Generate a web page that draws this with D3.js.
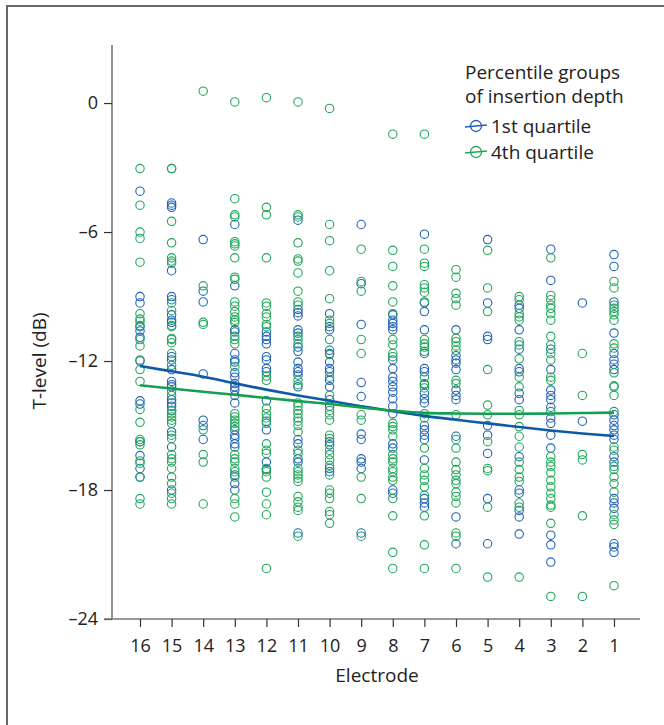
<!DOCTYPE html>
<html>
<head>
<meta charset="utf-8">
<script src="https://cdn.jsdelivr.net/npm/d3@7"></script>
<style>
  body { margin: 0; background: #fff; }
  svg { display: block; }
  svg text { font-family: "Open Sans", "Noto Sans", sans-serif; }
</style>
</head>
<body>
<div id="chart"></div>
<script>
// electrodes, left to right on the x axis
const electrodes = [16, 15, 14, 13, 12, 11, 10, 9, 8, 7, 6, 5, 4, 3, 2, 1];
const yTicks = [0, -6, -12, -18, -24];

// T-level (dB) per electrode, 1st quartile of insertion depth
const q1Values = [
  [-4.1, -9.0, -9.3, -10.4, -10.6, -10.9, -12.0, -13.85, -14.0, -15.75, -16.4, -17.0, -17.4],
  [-4.65, -4.75, -4.85, -7.8, -9.0, -9.15, -9.85, -10.1, -10.2, -11.8, -11.95, -12.4, -12.95, -13.1, -13.2, -13.8, -13.95, -14.1, -14.3, -15.3, -16.0, -18.0],
  [-6.35, -8.75, -9.25, -12.6, -14.75, -15.0, -15.65],
  [-5.65, -8.5, -10.55, -10.65, -11.65, -11.95, -12.05, -12.55, -12.75, -13.05, -13.2, -13.35, -13.6, -13.95, -15.2, -15.45, -15.6, -15.85, -16.0, -17.3, -17.7, -18.0],
  [-10.65, -10.85, -11.0, -11.2, -11.8, -11.95, -12.35, -12.5, -13.85, -14.8, -15.2, -16.7, -17.05],
  [-5.45, -9.6, -9.75, -9.9, -10.55, -10.7, -11.35, -11.55, -12.05, -12.35, -12.5, -12.65, -13.2, -15.65, -15.85, -16.55, -16.7, -20.0],
  [-9.8, -10.4, -10.55, -11.5, -11.65, -12.05, -12.35, -12.5, -12.9, -13.2, -13.8, -14.1, -15.75, -15.9, -17.0, -17.15],
  [-5.65, -8.4, -10.3, -13.0, -13.65, -15.4, -15.65, -16.55, -16.7, -17.0, -20.0],
  [-9.85, -10.1, -10.25, -10.4, -10.55, -11.95, -12.35, -12.75, -12.95, -13.2, -13.45, -13.75, -14.1, -14.45, -15.85, -16.05, -18.0, -18.15],
  [-6.1, -9.3, -9.7, -10.55, -11.65, -12.35, -12.5, -13.1, -13.5, -13.75, -13.95, -15.0, -15.2, -15.45, -15.65, -16.6, -18.4, -18.6, -18.8],
  [-10.55, -11.75, -11.95, -12.1, -12.4, -13.35, -13.6, -13.8, -15.5, -19.25, -20.5],
  [-6.35, -9.3, -10.85, -11.0, -15.0, -15.45, -16.3, -18.4, -20.5],
  [-9.4, -9.55, -10.55, -11.45, -12.35, -12.5, -13.5, -13.8, -16.45, -18.0, -18.15, -18.95, -19.25, -20.05],
  [-6.8, -8.25, -11.45, -12.4, -13.35, -13.6, -13.8, -14.15, -14.65, -14.9, -15.45, -16.05, -20.1, -20.55, -21.35],
  [-9.3, -14.8],
  [-7.05, -7.6, -9.25, -10.7, -11.65, -11.95, -12.15, -12.4, -14.5, -14.75, -15.0, -15.2, -15.45, -15.65, -16.45, -16.7, -18.4, -18.6, -18.85, -20.5, -20.65, -20.9]
];

// T-level (dB) per electrode, 4th quartile of insertion depth
const q4Values = [
  [-3.05, -4.75, -6.0, -6.3, -7.4, -9.8, -10.05, -10.15, -10.35, -11.0, -11.3, -11.95, -12.4, -12.95, -14.25, -14.85, -15.65, -15.75, -15.9, -16.65, -16.75, -17.4, -18.4, -18.65],
  [-3.05, -3.05, -5.5, -6.5, -7.2, -7.35, -7.45, -9.3, -9.65, -10.35, -10.4, -10.95, -11.0, -11.15, -11.65, -12.2, -13.4, -13.6, -14.3, -14.45, -14.6, -14.75, -14.9, -15.45, -15.6, -16.35, -16.55, -16.7, -17.0, -17.4, -17.7, -18.15, -18.4, -18.65],
  [0.55, -8.5, -10.2, -10.3, -15.2, -16.35, -16.7, -18.65],
  [0.05, -4.45, -5.2, -5.3, -6.45, -6.55, -6.65, -7.2, -8.1, -8.2, -9.25, -9.45, -9.7, -9.95, -10.1, -10.2, -10.85, -11.0, -11.2, -12.25, -14.45, -14.6, -14.75, -14.9, -15.05, -16.35, -16.55, -16.7, -17.0, -17.15, -17.4, -18.4, -18.65, -19.25],
  [0.25, -4.85, -5.2, -7.2, -9.3, -9.45, -9.8, -9.95, -10.3, -10.4, -12.7, -12.9, -14.2, -14.45, -14.65, -14.9, -15.85, -16.15, -16.3, -17.0, -17.15, -17.4, -18.1, -18.65, -19.15, -21.65],
  [0.05, -5.2, -5.3, -6.5, -7.25, -7.35, -7.9, -8.75, -9.25, -9.4, -10.85, -11.0, -11.2, -12.9, -13.1, -13.95, -14.1, -14.3, -14.45, -14.65, -14.8, -15.0, -15.3, -16.15, -16.3, -17.0, -17.15, -17.3, -17.45, -17.6, -18.3, -18.55, -18.8, -18.95, -20.15],
  [-0.25, -5.65, -6.4, -7.8, -9.1, -10.1, -10.25, -11.0, -11.7, -12.75, -13.6, -14.3, -14.5, -14.75, -15.45, -15.6, -16.15, -16.35, -16.6, -16.85, -17.3, -18.0, -18.15, -18.4, -19.0, -19.15, -19.55],
  [-6.8, -8.3, -8.75, -11.0, -11.65, -14.5, -14.75, -17.4, -18.4, -20.15],
  [-1.45, -6.85, -7.6, -8.5, -9.25, -9.8, -11.0, -11.25, -11.65, -11.8, -14.9, -15.05, -15.2, -15.5, -16.35, -16.55, -16.7, -17.0, -17.15, -17.4, -17.55, -18.4, -19.2, -20.9, -21.65],
  [-1.45, -6.8, -7.45, -7.6, -8.45, -8.6, -8.8, -9.25, -11.0, -11.2, -11.35, -11.55, -12.75, -13.05, -13.25, -14.45, -14.65, -16.05, -17.0, -17.3, -17.55, -17.85, -18.25, -19.2, -20.55, -21.65],
  [-7.75, -8.1, -8.85, -9.1, -9.4, -10.95, -11.1, -11.3, -11.5, -12.9, -13.05, -14.5, -15.65, -16.05, -16.7, -17.05, -17.3, -17.55, -17.7, -18.1, -18.3, -18.6, -20.0, -20.15, -21.65],
  [-6.85, -8.6, -9.7, -12.4, -14.05, -14.5, -15.75, -17.0, -17.1, -18.8, -22.05],
  [-9.0, -9.15, -9.8, -9.95, -10.1, -11.1, -11.25, -11.9, -12.75, -13.2, -14.3, -14.5, -15.05, -15.5, -16.0, -16.7, -17.05, -17.4, -17.6, -18.6, -18.8, -22.05],
  [-7.2, -8.95, -9.15, -9.4, -9.55, -9.8, -10.1, -10.85, -11.25, -11.65, -11.95, -12.75, -12.9, -14.35, -16.45, -16.7, -16.9, -17.2, -17.55, -17.85, -18.15, -18.4, -18.7, -18.8, -19.55, -22.95],
  [-11.65, -13.6, -16.35, -16.6, -19.2, -22.95],
  [-8.3, -8.6, -9.4, -9.55, -9.7, -9.85, -10.1, -11.2, -11.4, -12.55, -13.15, -13.2, -13.6, -14.35, -16.0, -16.15, -16.9, -17.05, -17.4, -17.7, -18.1, -19.15, -19.4, -19.6, -22.45]
];

// smoothed fit per electrode
const q1Fit = [-12.23, -12.48, -12.73, -13.04, -13.33, -13.6, -13.85, -14.1, -14.34, -14.55, -14.73, -14.9, -15.07, -15.23, -15.37, -15.49];
const q4Fit = [-13.13, -13.28, -13.43, -13.57, -13.72, -13.86, -14.0, -14.16, -14.3, -14.41, -14.44, -14.45, -14.45, -14.44, -14.42, -14.4];

const groupNames = ["1st quartile", "4th quartile"];
const blue = "#1f63b5", green = "#20a75a";
const blueLine = "#0d5aa8", greenLine = "#14a050";

const W = 664, H = 725;
const svg = d3.select("#chart").append("svg")
  .attr("width", W).attr("height", H);

// figure frame
svg.append("path")
  .attr("d", "M7,725V6H664")
  .attr("fill", "none").attr("stroke", "#666").attr("stroke-width", 2);

const x = d3.scaleLinear().domain([16.886, 0.177]).range([112, 640]);
const y = d3.scaleLinear().domain([-24, 2.7]).range([619, 45]);

// axes
const yAxis = svg.append("g")
  .attr("transform", "translate(112,0)")
  .call(d3.axisLeft(y).tickValues(yTicks).tickSize(8).tickSizeOuter(0)
    .tickFormat(d => d === 0 ? "0" : "\u2013" + Math.abs(d)));
const xAxis = svg.append("g")
  .attr("transform", "translate(0,619)")
  .call(d3.axisBottom(x).tickValues(electrodes).tickSize(8).tickSizeOuter(0)
    .tickFormat(d3.format("d")));

[yAxis, xAxis].forEach(g => {
  g.attr("font-family", null).attr("font-size", null);
  g.select(".domain").attr("stroke", "#777").attr("stroke-width", 1.6);
  g.selectAll(".tick line").attr("stroke", "#333").attr("stroke-width", 1.2);
  g.selectAll(".tick text").attr("fill", "#222").attr("font-size", 18);
});
yAxis.selectAll(".tick text").attr("x", -14);
xAxis.selectAll(".tick text").attr("y", 33).attr("dy", 0);
// y axis line extends to top
yAxis.select(".domain").attr("d", `M0,${y(-24)}V${y(2.7)}`);
// x axis line starts at y tick
xAxis.select(".domain").attr("d", "M104,0H640");

svg.append("text")
  .attr("transform", `translate(46,${y(-12)}) rotate(-90)`)
  .attr("text-anchor", "middle")
  .attr("font-size", 19).attr("fill", "#222")
  .text("T-level (dB)");

svg.append("text")
  .attr("x", (x(16) + x(1)) / 2).attr("y", 682)
  .attr("text-anchor", "middle")
  .attr("font-size", 19).attr("fill", "#222")
  .text("Electrode");

// points
function flatten(values) {
  const out = [];
  values.forEach((vals, i) => vals.forEach(v => out.push({ e: electrodes[i], v })));
  return out;
}
const groups = [
  { pts: flatten(q1Values), color: blue },
  { pts: flatten(q4Values), color: green }
];
groups.forEach(gr => {
  svg.append("g").selectAll("circle")
    .data(gr.pts)
    .join("circle")
    .attr("cx", d => x(d.e))
    .attr("cy", d => y(d.v))
    .attr("r", 4.2)
    .attr("fill", "none")
    .attr("stroke", gr.color)
    .attr("stroke-width", 1.1);
});

// fit lines
const line = d3.line()
  .x((d, i) => x(electrodes[i]))
  .y(d => y(d))
  .curve(d3.curveMonotoneX);
svg.append("path").attr("d", line(q1Fit))
  .attr("fill", "none").attr("stroke", blueLine).attr("stroke-width", 2.6);
svg.append("path").attr("d", line(q4Fit))
  .attr("fill", "none").attr("stroke", greenLine).attr("stroke-width", 2.6);

// legend
const legend = svg.append("g").attr("font-size", 19).attr("fill", "#222");
legend.append("text").attr("x", 465).attr("y", 79).text("Percentile groups");
legend.append("text").attr("x", 465).attr("y", 103).text("of insertion depth");
[blue, green].forEach((c, i) => {
  const cy = 126 + i * 26;
  legend.append("line").attr("x1", 465).attr("x2", 487)
    .attr("y1", cy + 1).attr("y2", cy - 1)
    .attr("stroke", c).attr("stroke-width", 1.3);
  legend.append("circle").attr("cx", 476).attr("cy", cy).attr("r", 5.5)
    .attr("fill", "none").attr("stroke", c).attr("stroke-width", 1.3);
  legend.append("text").attr("x", 491).attr("y", cy + 6.5).text(groupNames[i]);
});
</script>
</body>
</html>
